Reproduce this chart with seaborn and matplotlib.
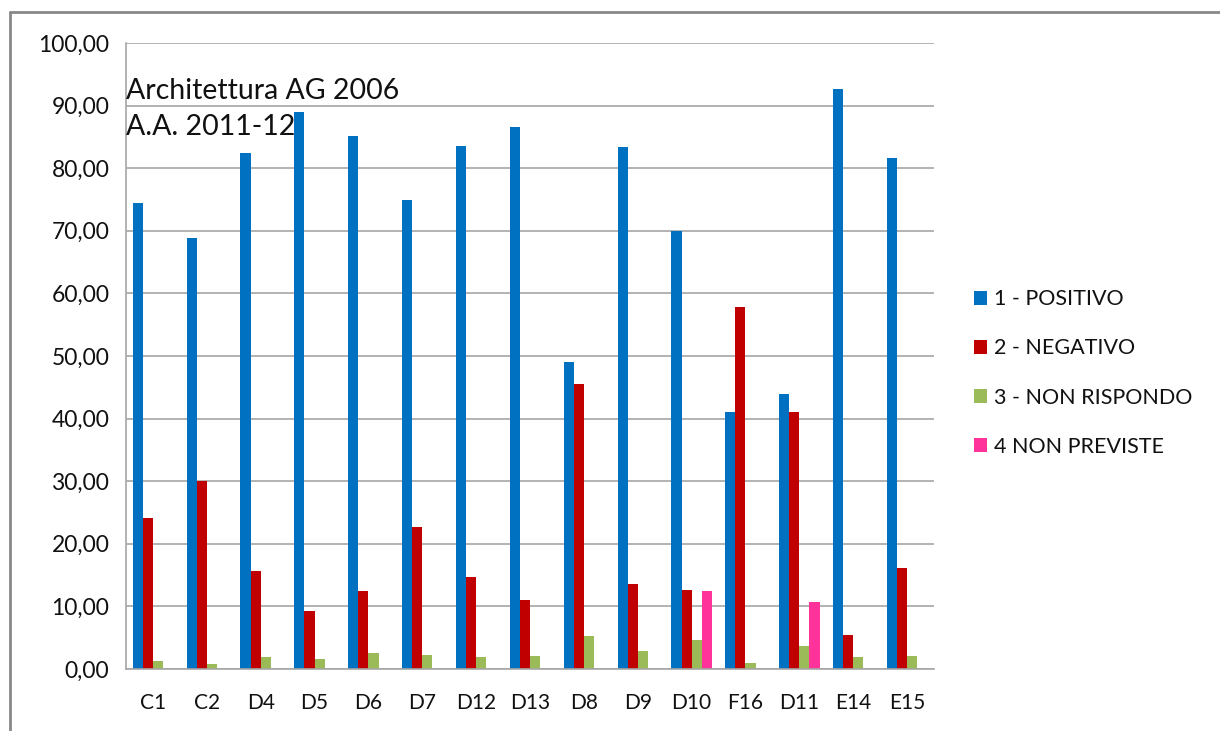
import numpy as np
import pandas as pd
import matplotlib
matplotlib.use("Agg")
import matplotlib.pyplot as plt
from matplotlib.lines import Line2D
from matplotlib.ticker import FuncFormatter, FixedLocator
import seaborn as sns

# Course evaluation results per question code
categories = ["C1", "C2", "D4", "D5", "D6", "D7", "D12", "D13",
              "D8", "D9", "D10", "F16", "D11", "E14", "E15"]
positivo = [74.4, 68.9, 82.4, 88.9, 85.1, 74.9, 83.5, 86.6,
            49.0, 83.4, 70.0, 41.0, 44.0, 92.6, 81.6]
negativo = [24.1, 30.1, 15.7, 9.3, 12.4, 22.7, 14.7, 11.1,
            45.6, 13.6, 12.6, 57.8, 41.1, 5.5, 16.1]
non_rispondo = [1.3, 0.8, 1.9, 1.6, 2.5, 2.2, 1.9, 2.0,
                5.2, 2.8, 4.6, 1.0, 3.7, 1.9, 2.0]
non_previste = [0, 0, 0, 0, 0, 0, 0, 0,
                0, 0, 12.4, 0, 10.7, 0, 0]

series_names = ["1 - POSITIVO", "2 - NEGATIVO", "3 - NON RISPONDO", "4 NON PREVISTE"]
series_colors = ["#0070C0", "#C00000", "#9BBB59", "#FF3399"]

df = pd.DataFrame({
    "categoria": categories * 4,
    "serie": np.repeat(series_names, len(categories)),
    "valore": positivo + negativo + non_rispondo + non_previste,
})

sns.set_theme(style="white")
plt.rcParams["font.family"] = ["Lato", "DejaVu Sans"]

fig = plt.figure(figsize=(12.2, 7.31), dpi=100)
ax = fig.add_axes([126 / 1220, 1 - 669 / 731, (934 - 126) / 1220, (669 - 43) / 731])

sns.barplot(data=df, x="categoria", y="valore", hue="serie",
            order=categories, hue_order=series_names,
            palette=series_colors, width=0.75, saturation=1,
            edgecolor="none", linewidth=0, ax=ax, legend=False)

n = len(categories)
ax.set_xlim(-0.5, n - 0.5)
ax.set_ylim(0, 100)
ax.set_yticks(np.arange(0, 101, 10))
ax.yaxis.set_major_formatter(FuncFormatter(lambda v, p: f"{v:.2f}".replace(".", ",")))
ax.grid(axis="y", color="#A6A6A6", linewidth=1.2)
ax.set_axisbelow(True)
ax.set_xlabel("")
ax.set_ylabel("")

for s in ["top", "right"]:
    ax.spines[s].set_visible(False)
for s in ["left", "bottom"]:
    ax.spines[s].set_color("#A6A6A6")
    ax.spines[s].set_linewidth(1.2)

# category labels centred, tick marks at category boundaries
ax.set_xticks(range(n))
ax.set_xticklabels(categories)
ax.tick_params(axis="x", which="major", length=0, pad=17, labelsize=15, labelcolor="#111111")
ax.xaxis.set_minor_locator(FixedLocator(np.arange(-0.5, n, 1.0)))
ax.tick_params(axis="x", which="minor", length=7, width=1.2, color="#A6A6A6", direction="out")
ax.tick_params(axis="y", which="major", length=7, width=1.2, color="#A6A6A6",
               direction="out", labelsize=16.5, pad=5, labelcolor="#111111")

fig.text(126 / 1220, 1 - 109 / 731, "Architettura AG 2006\nA.A. 2011-12",
         fontsize=20.5, color="#111111", va="center", ha="left", linespacing=1.45)

handles = [plt.Rectangle((0, 0), 1, 1, facecolor=c, edgecolor="none") for c in series_colors]
fig.legend(handles, series_names, loc="center left",
           bbox_to_anchor=(955 / 1220, 1 - 373 / 731), frameon=False,
           fontsize=15.5, handlelength=0.6, handleheight=0.6, handletextpad=0.3,
           labelspacing=1.35, labelcolor="#111111")

# outer chart frame (top and left edges)
fig.add_artist(Line2D([10 / 1220, 1.0], [1 - 12 / 731, 1 - 12 / 731],
                      transform=fig.transFigure, color="#888888", linewidth=2))
fig.add_artist(Line2D([10 / 1220, 10 / 1220], [0, 1 - 12 / 731],
                      transform=fig.transFigure, color="#888888", linewidth=2))

fig.savefig("out.png", dpi=100, facecolor="white")
